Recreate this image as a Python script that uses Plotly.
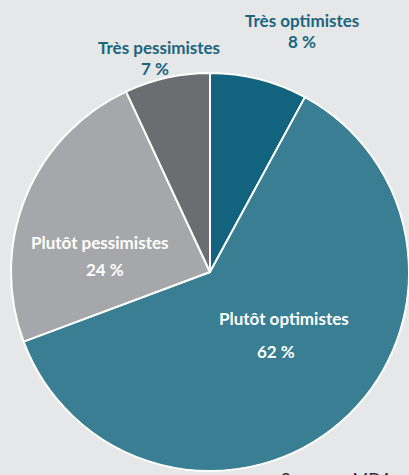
import plotly.graph_objects as go

categories = ["Très optimistes", "Plutôt optimistes", "Plutôt pessimistes", "Très pessimistes"]
values = [8, 62, 24, 7]
colors = ["#12647e", "#3a7e93", "#a6a7aa", "#6c6d70"]

W, H = 409, 475
cx, cy, r = 210, 272, 199  # pixel center / radius

fig = go.Figure(go.Pie(
    labels=categories,
    values=values,
    sort=False,
    direction="clockwise",
    rotation=0,
    marker=dict(colors=colors, line=dict(color="white", width=2)),
    textinfo="none",
    hoverinfo="label+value",
    domain=dict(x=[(cx - r) / W, 1], y=[(H - cy - r) / H, (H - cy + r) / H]),
    showlegend=False,
))

font_fam = "Lato, 'Open Sans', sans-serif"

def px(x, y):
    return x / W, (H - y) / H

labels = [
    ("<b>Très optimistes</b>", 302, 20, "#1a6580"),
    ("<b>8 %</b>", 302, 41, "#1a6580"),
    ("<b>Très pessimistes</b>", 159, 47, "#1a6580"),
    ("<b>7 %</b>", 155, 68, "#1a6580"),
    ("<b>Plutôt pessimistes</b>", 99, 242, "white"),
    ("<b>24 %</b>", 105, 269, "white"),
    ("<b>Plutôt optimistes</b>", 284, 318, "white"),
    ("<b>62 %</b>", 276, 351, "white"),
]
for text, x, y, c in labels:
    ax, ay = px(x, y)
    fig.add_annotation(text=text, x=ax, y=ay, xref="paper", yref="paper",
                       showarrow=False, xanchor="center", yanchor="middle",
                       font=dict(family=font_fam, size=17, color=c))

sx, sy = px(279, 467)
fig.add_annotation(text="Sources : MDA", x=sx, y=sy, xref="paper", yref="paper",
                   showarrow=False, xanchor="left", yanchor="top",
                   font=dict(family=font_fam, size=17, color="#333333"))

fig.update_layout(
    width=W, height=H,
    margin=dict(l=0, r=0, t=0, b=0),
    paper_bgcolor="#e6e7e8",
    plot_bgcolor="#e6e7e8",
)

fig.write_html(
    "out.html",
    config={"displayModeBar": False},
    post_script="document.body.style.margin='0';document.body.style.overflow='hidden';",
)
